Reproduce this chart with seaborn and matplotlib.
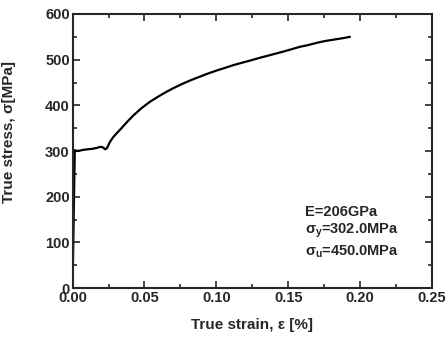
import pandas as pd
import matplotlib
matplotlib.use('Agg')
import matplotlib.pyplot as plt
import seaborn as sns
from matplotlib.ticker import MultipleLocator, FormatStrFormatter

# Stress-strain curve
strain = [0.0, 0.0005, 0.0010, 0.0015, 0.0017, 0.0030, 0.0050, 0.0080, 0.0110,
          0.0140, 0.0170, 0.0190, 0.0205, 0.0215, 0.0226, 0.0235, 0.0245,
          0.0260, 0.0284, 0.0310, 0.0340, 0.0380, 0.0423, 0.0480, 0.0539,
          0.0600, 0.0655, 0.0710, 0.0770, 0.0830, 0.0887, 0.0945, 0.1000,
          0.1060, 0.1118, 0.1175, 0.1235, 0.1290, 0.1350, 0.1410, 0.1470,
          0.1525, 0.1580, 0.1640, 0.1700, 0.1760, 0.1820, 0.1880, 0.1930]
stress = [0, 100, 200, 295, 302, 300, 301, 303, 304,
          305, 307, 309, 309, 307, 304, 305, 310,
          320, 331, 340, 350, 364, 378, 394, 408,
          420, 430, 439, 448, 456, 463, 470, 476,
          482, 488, 493, 498, 503, 508, 513, 518,
          523, 528, 532, 537, 541, 544, 547, 550]

labels = ['E=206GPa', r'$\sigma_y$=302.0MPa', r'$\sigma_u$=450.0MPa']
label_y = [166, 126, 80]

df = pd.DataFrame({'strain': strain, 'stress': stress})

sns.set_style('ticks')
plt.rcParams['font.family'] = ['Liberation Sans', 'DejaVu Sans']
plt.rcParams['mathtext.fontset'] = 'custom'
plt.rcParams['mathtext.rm'] = 'Liberation Sans:bold'
plt.rcParams['mathtext.it'] = 'Liberation Sans:bold'

fig = plt.figure(figsize=(4.48, 3.41), dpi=100)
ax = fig.add_axes([0.162, 0.155, 0.802, 0.804])

sns.lineplot(data=df, x='strain', y='stress', color='black', linewidth=1.6, ax=ax, sort=False)

ax.set_xlim(0, 0.25)
ax.set_ylim(0, 600)
ax.xaxis.set_major_locator(MultipleLocator(0.05))
ax.xaxis.set_minor_locator(MultipleLocator(0.025))
ax.yaxis.set_major_locator(MultipleLocator(100))
ax.yaxis.set_minor_locator(MultipleLocator(50))
ax.xaxis.set_major_formatter(FormatStrFormatter('%.2f'))

ax.tick_params(which='both', direction='in', top=True, right=True, width=1.2,
               labelsize=10.5, pad=2)
ax.tick_params(which='major', length=5)
ax.tick_params(which='minor', length=3)
for lab in ax.get_xticklabels() + ax.get_yticklabels():
    lab.set_fontweight('bold')
for sp in ax.spines.values():
    sp.set_linewidth(1.5)
    sp.set_visible(True)

ax.set_xlabel('True strain, ε [%]', fontsize=11, fontweight='bold')
ax.set_ylabel('True stress, σ[MPa]', fontsize=11, fontweight='bold')
ax.xaxis.set_label_coords(0.5, -0.11)
ax.yaxis.set_label_coords(-0.157, 0.57)

for t, yv in zip(labels, label_y):
    ax.text(0.162, yv, t, fontsize=10.5, fontweight='bold', va='center')

fig.savefig('out.png', dpi=100)
